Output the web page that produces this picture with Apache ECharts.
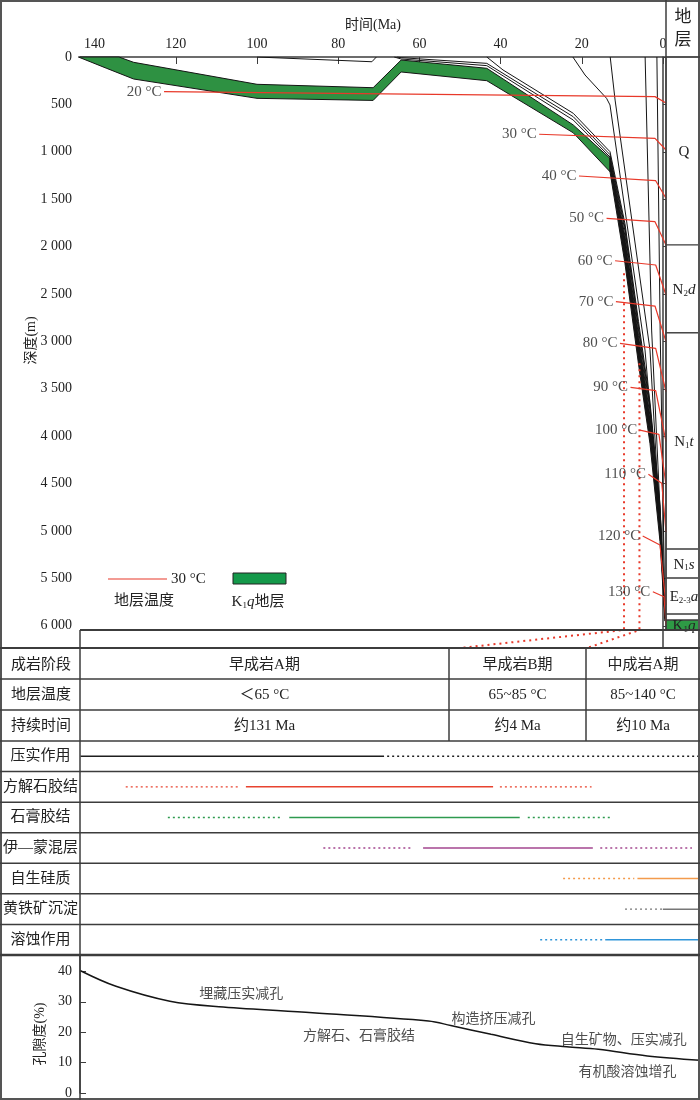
<!DOCTYPE html>
<html>
<head>
<meta charset="utf-8">
<title>埋藏史与成岩演化</title>
<script src="https://cdn.jsdelivr.net/npm/echarts@6/dist/echarts.min.js"></script>
<style>
  html, body { margin: 0; padding: 0; background: #fff; }
  #chart { width: 700px; height: 1100px; }
</style>
</head>
<body>
<div id="chart"></div>
<script>
// ---------- data ----------
var timeTicks = [0, 20, 40, 60, 80, 100, 120, 140];
var depthTicks = [0, 500, 1000, 1500, 2000, 2500, 3000, 3500, 4000, 4500, 5000, 5500, 6000];
var poroTicks = [0, 10, 20, 30, 40];

// K1q stratum (green part, until 13 Ma)
var kTopMa     = [144, 134, 130.4, 100, 71.4, 64.5, 43.4, 22.1, 13.05];
var kTopDepth  = [0,   0,   56,    288, 324,  32,   119,  717,  1069];
var kBaseMa    = [144, 137, 130.4, 100, 71.4, 64.5, 43.4, 22.1, 13.05];
var kBaseDepth = [0,   120, 232,   436, 458,  158,  250,  800,  1210];
// K1q after 13 Ma (thick black bundle)
var bundleMa        = [13.05, 9.36, 6.03, 3.2,  0.74, -0.5];
var bundleTopDepth  = [1069,  1890, 2940, 3790, 4860, 5930];
var bundleBaseDepth = [1210,  2180, 3240, 4080, 5110, 5950];

// other stratum boundaries
var eroMa = [100, 71.7, 70.6];
var eroDepth = [0, 50, 0];
var paleoAMa = [65.5, 64.5, 43.4, 22.1, 13.05, 9.36, 6.03, 3.2, 0.74, -0.5];
var paleoADepth = [0, 7, 67, 630, 1030, 1800, 2840, 3690, 4760, 5920];
var paleoBMa = [66.2, 64.5, 43.4, 22.1, 13.05, 9.36, 6.03, 3.2, 0.74, -0.5];
var paleoBDepth = [0, 21, 91, 665, 1055, 1835, 2880, 3730, 4800, 5925];
var eoMa = [43.4, 39.4, 22.1, 13.05, 9.36, 6.03, 3.2, 0.74, -0.5];
var eoDepth = [0, 137, 594, 999, 1760, 2790, 3640, 4720, 5915];
var n1sMa = [22.2, 19.2, 13.9, 13.05, 4.43, 1.2, -0.5];
var n1sDepth = [0, 190, 436, 506, 3091, 4700, 5900];
var n1tMa = [13, 11.8, 3.2, -0.5];
var n1tDepth = [0, 454, 3091, 5900];
var n2dMa = [4.4, 2.8, -0.5];
var n2dDepth = [0, 2880, 5900];
var qMa = [1.5, 0.7, -0.5];
var qDepth = [0, 2880, 5900];

// isotherms
var isoTemps      = [20,    30,   40,   50,   60,   70,   80,   90,   100,  110,  120,  130];
var isoStartMa    = [122.9, 30.5, 20.7, 13.9, 11.8, 11.6, 10.6, 8.0,  5.7,  3.6,  5.0,  2.5];
var isoStartDepth = [366,   815,  1255, 1702, 2149, 2581, 3020, 3484, 3935, 4402, 5053, 5640];
var isoBendMa     = [1.97,  1.97, 1.8,  1.97, 1.8,  1.97, 1.8,  1.8,  1.0,  0.3,  0.74, -0.25];
var isoBendDepth  = [418,   858,  1305, 1737, 2194, 2627, 3073, 3520, 3980, 4497, 5148, 5693];
var isoEndDepth   = [485,   981,  1490, 1983, 2511, 3003, 3531, 4058, 4515, 5010, 5780, 5990];

// diagenetic stage boundaries (dotted)
var stageAMa = [9.6, 9.6, 50.0];
var stageADepth = [2282, 6044, 6234];
var stageBMa = [5.8, 5.8, 18.7];
var stageBDepth = [3230, 6044, 6234];

// strata column
var strataMain   = ['Q', 'N', 'N', 'N', 'E', '', 'K'];
var strataSub    = ['', '2', '1', '1', '2-3', '', '1'];
var strataSuffix = ['', 'd', 't', 's', 'a', '', 'q'];
var strataTop    = [0, 1983, 2911, 5190, 5496, 5876, 5940];
var strataBottom = [1983, 2911, 5190, 5496, 5876, 5940, 6044];

// table
var tableRowNames = ['成岩阶段', '地层温度', '持续时间'];
var stageNames = ['早成岩A期', '早成岩B期', '中成岩A期'];
var stageTemps = ['＜65 °C', '65~85 °C', '85~140 °C'];
var stageDurations = ['约131 Ma', '约4 Ma', '约10 Ma'];

// diagenetic processes (position along the stage scale, 0-100)
var processNames = ['压实作用', '方解石胶结', '石膏胶结', '伊—蒙混层', '自生硅质', '黄铁矿沉淀', '溶蚀作用'];
var processColors = ['#1e1e1e', '#e8432f', '#2e9a4f', '#a3468f', '#f39b4c', '#777777', '#2f95d9'];
var processSolid = [[0, 49], [26.7, 66.6], [33.7, 70.9], [55.3, 82.7], [89.9, 100], [94, 100], [84.7, 100]];
var processDotted = [
  [[49.5, 100]],
  [[7.3, 25.5], [67.7, 82.5]],
  [[14.1, 32.4], [72.2, 85.7]],
  [[39.2, 53.7], [83.9, 98.7]],
  [[77.9, 89.4]],
  [[87.9, 94]],
  [[74.2, 84.7]]
];

// porosity evolution
var poroX = [0, 5.8, 14.5, 23.1, 37.5, 56.2, 59.8, 66.3, 73.5, 78.5, 83.6, 91.5, 100];
var poroY = [40.3, 35.1, 30.2, 28.3, 26.4, 23.7, 22.2, 19.3, 16.2, 15.2, 14.4, 12.2, 10.8];
var poroNotes = ['埋藏压实减孔', '方解石、石膏胶结', '构造挤压减孔', '自生矿物、压实减孔', '有机酸溶蚀增孔'];
var poroNoteX = [26, 45, 66.7, 87.7, 88.3];
var poroNoteY = [32.6, 18.5, 24.4, 17.4, 6.8];

// ---------- chart ----------
var SERIF = "'Liberation Serif','Noto Sans CJK SC',serif";
var INK = '#222';
var FRAME = '#3c3c3c';
var RED = '#e8392a';
var X_MIN = -0.74, X_MAX = 143.6, Y_MAX = 6234, P_MAX = 45.4;

var chart = echarts.init(document.getElementById('chart'));

function pairs(xs, ys) {
  return xs.map(function (x, i) { return [x, ys[i]]; });
}
function fmtDepth(v) {
  if (v < 1000) return String(v);
  var r = v % 1000;
  return Math.floor(v / 1000) + ' ' + ('00' + r).slice(-3);
}
function bandSeries(top, base, fill) {
  return {
    type: 'custom', xAxisIndex: 0, yAxisIndex: 0, z: 2, silent: true,
    data: [top[0]],
    renderItem: function (params, api) {
      var pts = top.concat(base.slice().reverse()).map(function (p) { return api.coord(p); });
      return { type: 'polygon', shape: { points: pts },
        style: { fill: fill, stroke: '#151515', lineWidth: 1 } };
    }
  };
}
function blackLine(xs, ys) {
  return { type: 'line', xAxisIndex: 0, yAxisIndex: 0, data: pairs(xs, ys), symbol: 'none',
    silent: true, z: 3, lineStyle: { color: '#151515', width: 1 } };
}

var series = [];
series.push(bandSeries(pairs(kTopMa, kTopDepth), pairs(kBaseMa, kBaseDepth), '#2e9142'));
series.push(bandSeries(pairs(bundleMa, bundleTopDepth), pairs(bundleMa, bundleBaseDepth), '#151515'));
[[eroMa, eroDepth], [paleoAMa, paleoADepth], [paleoBMa, paleoBDepth], [eoMa, eoDepth],
 [n1sMa, n1sDepth], [n1tMa, n1tDepth], [n2dMa, n2dDepth], [qMa, qDepth]].forEach(function (l) {
  series.push(blackLine(l[0], l[1]));
});

isoTemps.forEach(function (t, i) {
  series.push({
    type: 'line', xAxisIndex: 0, yAxisIndex: 0, symbol: 'none', silent: true, z: 5,
    lineStyle: { color: RED, width: 1.2 },
    data: [[isoStartMa[i], isoStartDepth[i]], [isoBendMa[i], isoBendDepth[i]], [X_MIN, isoEndDepth[i]]]
  });
});
series.push({
  type: 'scatter', xAxisIndex: 0, yAxisIndex: 0, symbolSize: 1, silent: true, z: 6,
  itemStyle: { color: 'rgba(0,0,0,0)' },
  label: { show: true, position: 'left', distance: 2, formatter: '{b}',
    fontFamily: SERIF, fontSize: 15, color: INK },
  data: isoTemps.map(function (t, i) {
    return { name: t + ' °C', value: [isoStartMa[i], isoStartDepth[i]] };
  })
});

[[stageAMa, stageADepth], [stageBMa, stageBDepth]].forEach(function (l) {
  series.push({
    type: 'line', xAxisIndex: 0, yAxisIndex: 0, symbol: 'none', silent: true, z: 4,
    lineStyle: { color: RED, width: 2, type: [2, 4] },
    data: pairs(l[0], l[1])
  });
});

// strata column
series.push({
  type: 'custom', xAxisIndex: 1, yAxisIndex: 1, silent: true, z: 3,
  encode: { x: 0, y: [1, 2] },
  data: strataTop.map(function (t, i) { return [0.5, t, strataBottom[i]]; }),
  renderItem: function (params, api) {
    var i = params.dataIndex;
    var p1 = api.coord([0, api.value(1)]);
    var p2 = api.coord([1, api.value(2)]);
    var txt = '';
    if (strataMain[i]) txt += '{m|' + strataMain[i] + '}';
    if (strataSub[i]) txt += '{s|' + strataSub[i] + '}';
    if (strataSuffix[i]) txt += '{i|' + strataSuffix[i] + '}';
    return {
      type: 'group',
      children: [
        { type: 'rect', shape: { x: p1[0], y: p1[1], width: p2[0] - p1[0], height: p2[1] - p1[1] },
          style: { fill: strataMain[i] === 'K' ? '#2e9a45' : '#fff', stroke: FRAME, lineWidth: 1.2 } },
        { type: 'text', style: {
            text: txt, x: (p1[0] + p2[0]) / 2 + 1, y: (p1[1] + p2[1]) / 2, align: 'center', verticalAlign: 'middle',
            rich: {
              m: { fontFamily: SERIF, fontSize: 15, fill: INK, lineHeight: 18, verticalAlign: 'bottom' },
              s: { fontFamily: SERIF, fontSize: 9, fill: INK, lineHeight: 18, verticalAlign: 'bottom' },
              i: { fontFamily: SERIF, fontSize: 15, fontStyle: 'italic', fill: INK, lineHeight: 18, verticalAlign: 'bottom' }
            } } }
      ]
    };
  }
});

// process rows
var procData = [];
processNames.forEach(function (n, r) {
  procData.push([r, processSolid[r][0], processSolid[r][1], 0]);
  processDotted[r].forEach(function (d) { procData.push([r, d[0], d[1], 1]); });
});
series.push({
  type: 'custom', xAxisIndex: 2, yAxisIndex: 2, silent: true,
  encode: { x: [1, 2], y: 0 },
  data: procData,
  renderItem: function (params, api) {
    var r = api.value(0);
    var a = api.coord([api.value(1), r]);
    var b = api.coord([api.value(2), r]);
    var dashed = api.value(3) === 1;
    return { type: 'line', shape: { x1: a[0], y1: a[1], x2: b[0], y2: b[1] },
      style: { stroke: processColors[r], lineWidth: dashed ? 1.4 : 1.5, lineDash: dashed ? [2, 3] : null } };
  }
});

// porosity
series.push({
  type: 'line', xAxisIndex: 3, yAxisIndex: 3, symbol: 'none', smooth: 0.35, silent: true,
  lineStyle: { color: '#151515', width: 1.5 },
  data: pairs(poroX, poroY)
});
series.push({
  type: 'scatter', xAxisIndex: 3, yAxisIndex: 3, symbolSize: 1, silent: true,
  itemStyle: { color: 'rgba(0,0,0,0)' },
  label: { show: true, position: 'inside', formatter: '{b}', fontFamily: SERIF, fontSize: 14, color: INK },
  data: poroNotes.map(function (n, i) { return { name: n, value: [poroNoteX[i], poroNoteY[i]] }; })
});

// ---------- frame, table, legend ----------
var g = [];
function gLine(x1, y1, x2, y2, w) {
  g.push({ type: 'line', silent: true, z: 10, shape: { x1: x1, y1: y1, x2: x2, y2: y2 },
    style: { stroke: FRAME, lineWidth: w || 1.5 } });
}
function gText(x, y, text, opt) {
  opt = opt || {};
  g.push({ type: 'text', silent: true, z: 10, x: x, y: y,
    style: { text: text, fill: INK, fontFamily: SERIF, fontSize: opt.size || 15,
      align: opt.align || 'center', verticalAlign: 'middle', lineHeight: opt.lh, rich: opt.rich } });
}
g.push({ type: 'rect', silent: true, z: 10, shape: { x: 1, y: 1, width: 698, height: 1098 },
  style: { fill: 'none', stroke: '#555', lineWidth: 2 } });
gLine(666, 0, 666, 630, 1.5);
gLine(666, 57, 700, 57, 1.5);
gLine(80, 630, 700, 630, 2);
gLine(0, 648, 700, 648, 2);
gLine(80, 630, 80, 1100, 1.5);
[679, 710, 741].forEach(function (y) { gLine(0, y, 700, y, 1.5); });
var rowH = 214 / 7;
for (var k = 1; k < 7; k++) gLine(0, 741 + k * rowH, 700, 741 + k * rowH, 1.5);
gLine(0, 955, 700, 955, 2.5);
gLine(449, 648, 449, 741, 1.5);
gLine(586, 648, 586, 741, 1.5);

gText(683, 29, '地\n层', { size: 17, lh: 23 });

var colCenters = [264.5, 517.5, 643];
var rowCenters = [665, 695.5, 726];
[stageNames, stageTemps, stageDurations].forEach(function (arr, r) {
  gText(41, rowCenters[r], tableRowNames[r]);
  arr.forEach(function (s, c) { gText(colCenters[c], rowCenters[r], s); });
});

// legend
gLine(108, 579, 167, 579, 1.2);
g[g.length - 1].style.stroke = RED;
gText(171, 579, '30 °C', { align: 'left' });
gText(144, 601, '地层温度');
g.push({ type: 'rect', silent: true, z: 10, shape: { x: 233, y: 573, width: 53, height: 11 },
  style: { fill: '#14994a', stroke: '#222', lineWidth: 1 } });
gText(258, 601, '{m|K}{s|1}{i|q}{m|地层}', { rich: {
  m: { fontFamily: SERIF, fontSize: 15, fill: INK, lineHeight: 18, verticalAlign: 'bottom' },
  s: { fontFamily: SERIF, fontSize: 9, fill: INK, lineHeight: 18, verticalAlign: 'bottom' },
  i: { fontFamily: SERIF, fontSize: 15, fontStyle: 'italic', fill: INK, lineHeight: 18, verticalAlign: 'bottom' }
} });

var axisFont = { fontFamily: SERIF, fontSize: 14, color: INK };
var option = {
  animation: false,
  backgroundColor: '#fff',
  grid: [
    { left: 80, top: 57, width: 586, height: 591 },
    { left: 666, top: 57, width: 34, height: 591 },
    { left: 80, top: 741, width: 620, height: 214 },
    { left: 80, top: 955, width: 620, height: 139 }
  ],
  xAxis: [
    { gridIndex: 0, type: 'value', position: 'top', inverse: true, min: X_MIN, max: X_MAX,
      axisLine: { show: true, lineStyle: { color: FRAME, width: 1.5 } },
      axisTick: { show: true, inside: true, length: 7, customValues: timeTicks, lineStyle: { color: FRAME } },
      axisLabel: Object.assign({ customValues: timeTicks, margin: 6 }, axisFont),
      splitLine: { show: false },
      name: '时间(Ma)', nameLocation: 'middle', nameGap: 25, nameMoveOverlap: false,
      nameTextStyle: axisFont },
    { gridIndex: 1, type: 'value', min: 0, max: 1, show: false },
    { gridIndex: 2, type: 'value', min: 0, max: 100, show: false },
    { gridIndex: 3, type: 'value', min: 0, max: 100, show: false }
  ],
  yAxis: [
    { gridIndex: 0, type: 'value', inverse: true, min: 0, max: Y_MAX,
      axisLine: { show: true, lineStyle: { color: FRAME, width: 1.5 } },
      axisTick: { show: true, inside: true, length: 7, customValues: depthTicks, lineStyle: { color: FRAME } },
      axisLabel: Object.assign({ customValues: depthTicks, margin: 8, formatter: fmtDepth }, axisFont),
      splitLine: { show: false },
      name: '深度(m)', nameLocation: 'middle', nameGap: 42, nameRotate: 90, nameMoveOverlap: false,
      nameTextStyle: Object.assign({ padding: [0, 0, 0, 24] }, axisFont) },
    { gridIndex: 1, type: 'value', inverse: true, min: 0, max: Y_MAX, show: false },
    { gridIndex: 2, type: 'category', inverse: true, data: processNames,
      axisLine: { show: false }, axisTick: { show: false },
      axisLabel: { align: 'center', margin: 40, fontFamily: SERIF, fontSize: 15, color: INK } },
    { gridIndex: 3, type: 'value', min: 0, max: P_MAX,
      axisLine: { show: true, lineStyle: { color: FRAME, width: 1.5 } },
      axisTick: { show: true, inside: true, length: 6, customValues: poroTicks, lineStyle: { color: FRAME } },
      axisLabel: Object.assign({ customValues: poroTicks, margin: 8 }, axisFont),
      splitLine: { show: false },
      name: '孔隙度(%)', nameLocation: 'middle', nameGap: 33, nameRotate: 90, nameMoveOverlap: false,
      nameTextStyle: Object.assign({ padding: [0, 20, 0, 0] }, axisFont) }
  ],
  graphic: g,
  series: series
};
chart.setOption(option);
</script>
</body>
</html>
